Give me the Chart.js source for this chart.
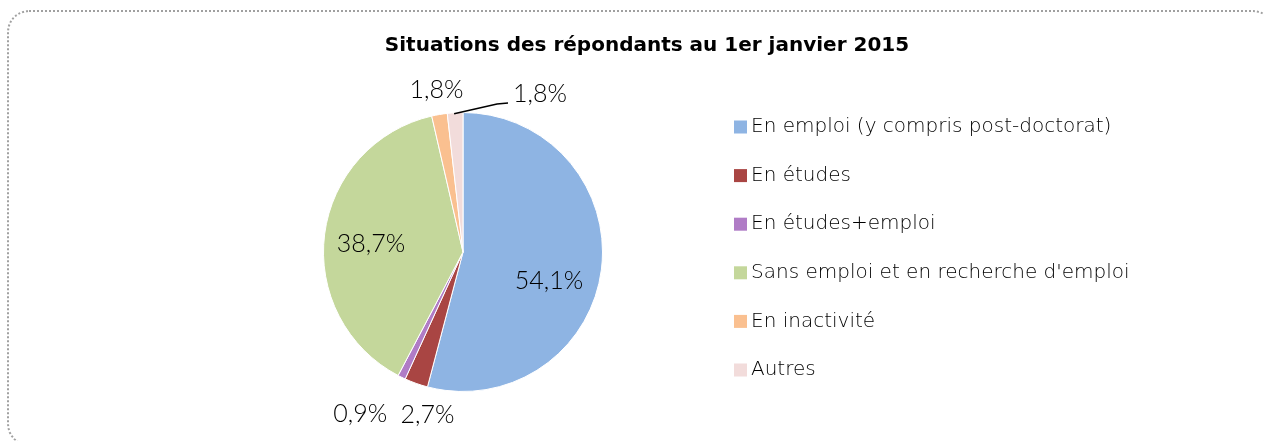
<!DOCTYPE html>
<html><head><meta charset="utf-8">
<script src="https://cdn.jsdelivr.net/npm/chart.js@4.4.1/dist/chart.umd.min.js"></script>
<style>
html,body{margin:0;padding:0;background:#fff;overflow:hidden;width:1264px;height:441px;}
#frame{position:absolute;left:7px;top:10px;width:1268px;height:436px;border:2px dotted #a0a0a0;border-radius:22px;box-sizing:border-box;}
#wrap{position:absolute;left:0;top:0;width:1264px;height:441px;}
</style></head>
<body>
<div id="frame"></div>
<div id="wrap"><canvas id="c" width="1264" height="441"></canvas></div>
<script>
const title = "Situations des répondants au 1er janvier 2015";
const categories = ["En emploi (y compris post-doctorat)","En études","En études+emploi","Sans emploi et en recherche d'emploi","En inactivité","Autres"];
const values = [54.1, 2.7, 0.9, 38.7, 1.8, 1.8];
const colors = ["#8EB4E3","#A94543","#B07CC6","#C4D79B","#FAC090","#F2DCDB"];

const LABEL_FONT = '300 25px "Lato", sans-serif';
const LEGEND_FONT = '200 20px "DejaVu Sans", sans-serif';
const TITLE_FONT = 'bold 20px "DejaVu Sans", sans-serif';

function fmt(v){ return v.toFixed(1).replace('.', ',') + '%'; }

const overlay = {
  id:'overlay',
  afterDraw(chart){
    const ctx = chart.ctx;
    const meta = chart.getDatasetMeta(0);
    const arc0 = meta.data[0];
    const cx = arc0.x, cy = arc0.y, R = arc0.outerRadius;
    // title
    ctx.save();
    ctx.fillStyle = '#000';
    ctx.font = TITLE_FONT;
    ctx.textAlign = 'center'; ctx.textBaseline = 'middle';
    ctx.fillText(title, 647, 46);
    ctx.restore();
    // data labels
    const place = [
      {f:0.65, dx:-4, dy:17},
      {out:26, dx:20, dy:7},
      {out:26, dx:-30, dy:13},
      {f:0.65, dx:-2, dy:4},
      {out:24, dx:1, dy:-1},
      {fixed:[77,-158], leader:true}
    ];
    ctx.save();
    ctx.font = LABEL_FONT;
    ctx.fillStyle = '#000';
    ctx.textAlign='center'; ctx.textBaseline='middle';
    meta.data.forEach((arc,i)=>{
      const mid = (arc.startAngle + arc.endAngle)/2;
      const p = place[i];
      let x,y;
      if (p.fixed){ x = cx + p.fixed[0]; y = cy + p.fixed[1]; }
      else {
        const d = p.f ? R*p.f : R + p.out;
        x = cx + Math.cos(mid)*d + (p.dx||0);
        y = cy + Math.sin(mid)*d + (p.dy||0);
      }
      const txt = fmt(values[i]);
      if (p.leader){
        const w = ctx.measureText(txt).width;
        const ex = cx + Math.cos(mid)*R, ey = cy + Math.sin(mid)*R;
        ctx.save();
        ctx.strokeStyle='#000'; ctx.lineWidth=1.5;
        ctx.beginPath(); ctx.moveTo(ex-1, ey+1); ctx.lineTo(x - w/2 - 16, y+10); ctx.lineTo(x - w/2 - 5, y+9); ctx.stroke();
        ctx.restore();
      }
      ctx.fillText(txt, x, y);
    });
    ctx.restore();
    // legend
    ctx.save();
    ctx.font = LEGEND_FONT;
    ctx.textAlign='left'; ctx.textBaseline='middle';
    categories.forEach((c,i)=>{
      const y = 127 + i*48.6;
      ctx.fillStyle = colors[i];
      ctx.fillRect(734, y-6.5, 13, 13);
      ctx.fillStyle = '#000';
      ctx.fillText(c, 751, y);
    });
    ctx.restore();
  }
};

new Chart(document.getElementById('c'), {
  type:'pie',
  data:{ labels:categories, datasets:[{ data:values, backgroundColor:colors, borderColor:'#ffffff', borderWidth:1 }]},
  options:{
    responsive:false, animation:false,
    layout:{ padding:{ left:323, right:661, top:112, bottom:49 } },
    plugins:{ legend:{display:false}, title:{display:false}, tooltip:{enabled:false} }
  },
  plugins:[overlay]
});
</script>
</body></html>
